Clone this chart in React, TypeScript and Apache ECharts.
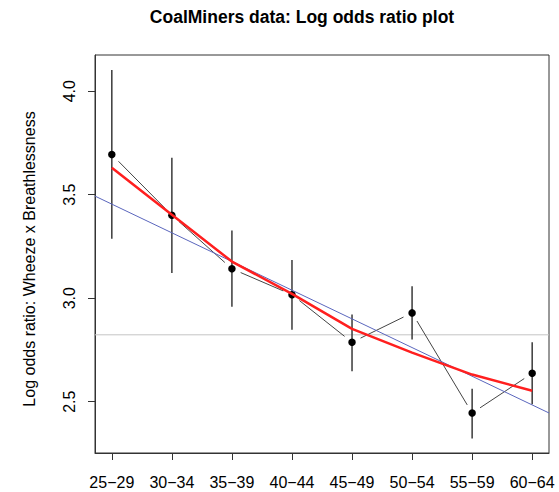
import React, { useEffect, useRef } from 'react';
import * as echarts from 'echarts';

// Age groups (x categories)
const AGE_GROUPS = ['25−29', '30−34', '35−39', '40−44', '45−49', '50−54', '55−59', '60−64'];
const AGE_INDEX = [1, 2, 3, 4, 5, 6, 7, 8];

// Observed log odds ratios and their confidence limits
const LOG_ODDS = [3.694, 3.401, 3.142, 3.017, 2.787, 2.929, 2.445, 2.637];
const CI_LOWER = [3.287, 3.122, 2.959, 2.847, 2.647, 2.8, 2.322, 2.487];
const CI_UPPER = [4.103, 3.678, 3.327, 3.185, 2.921, 3.058, 2.563, 2.787];

// Lowess smooth values at each age group
const SMOOTH = [3.63, 3.403, 3.177, 3.021, 2.852, 2.737, 2.631, 2.553];

// Linear fit (blue) and reference level (grey)
const FIT_INTERCEPT = 3.593;
const FIT_SLOPE = -0.1386;
const REF_LEVEL = 2.823;

// Y tick values
const Y_TICKS = [2.5, 3.0, 3.5, 4.0];

const X_MIN = 0.72;
const X_MAX = 8.28;
const Y_MIN = 2.252;
const Y_MAX = 4.175;

const FONT = "'Liberation Sans', Arial, Helvetica, sans-serif";

export default function App() {
  const ref = useRef<HTMLDivElement>(null);

  useEffect(() => {
    if (!ref.current) return;
    const chart = echarts.init(ref.current, null, { renderer: 'svg' });

    const points = AGE_INDEX.map((x, i) => [x, LOG_ODDS[i]]);
    const bars = AGE_INDEX.map((x, i) => [x, CI_LOWER[i], CI_UPPER[i]]);
    const segments = AGE_INDEX.slice(0, -1).map((x, i) => [x, LOG_ODDS[i], AGE_INDEX[i + 1], LOG_ODDS[i + 1]]);
    const smooth = AGE_INDEX.map((x, i) => [x, SMOOTH[i]]);
    const fit = [X_MIN, X_MAX].map((x) => [x, FIT_INTERCEPT + FIT_SLOPE * x]);
    const ref_line = [X_MIN, X_MAX].map((x) => [x, REF_LEVEL]);

    const GAP = 9.5;

    const option: any = {
      animation: false,
      backgroundColor: '#ffffff',
      grid: {
        left: 95,
        right: 10,
        top: 55,
        bottom: 39,
        show: true,
        borderColor: '#333',
        borderWidth: 1,
        backgroundColor: 'transparent',
      },
      graphic: [
        {
          type: 'text',
          x: 302,
          y: 17,
          style: {
            text: 'CoalMiners data: Log odds ratio plot',
            font: `bold 17.5px ${FONT}`,
            fill: '#000',
            textAlign: 'center',
            textVerticalAlign: 'middle',
          },
        },
        {
          type: 'text',
          x: 29.5,
          y: 259,
          rotation: Math.PI / 2,
          style: {
            text: 'Log odds ratio: Wheeze x Breathlessness',
            font: `16px ${FONT}`,
            fill: '#000',
            textAlign: 'center',
            textVerticalAlign: 'middle',
          },
        },
      ],
      xAxis: {
        type: 'value',
        min: X_MIN,
        max: X_MAX,
        splitLine: { show: false },
        axisLine: { show: true, onZero: false, lineStyle: { color: '#333', width: 1 } },
        axisTick: {
          show: true,
          customValues: AGE_INDEX,
          length: 7,
          lineStyle: { color: '#333', width: 1 },
        },
        axisLabel: {
          customValues: AGE_INDEX,
          formatter: (v: number) => AGE_GROUPS[Math.round(v) - 1],
          fontSize: 16,
          fontFamily: FONT,
          color: '#000',
          margin: 21,
        },
      },
      yAxis: {
        type: 'value',
        min: Y_MIN,
        max: Y_MAX,
        splitLine: { show: false },
        axisLine: { show: true, onZero: false, lineStyle: { color: '#333', width: 1 } },
        axisTick: {
          show: true,
          customValues: Y_TICKS,
          length: 7,
          lineStyle: { color: '#333', width: 1 },
        },
        axisLabel: {
          customValues: Y_TICKS,
          formatter: (v: number) => v.toFixed(1),
          rotate: 90,
          fontSize: 16,
          fontFamily: FONT,
          color: '#000',
          margin: 18,
        },
      },
      series: [
        {
          type: 'line',
          data: ref_line,
          symbol: 'none',
          lineStyle: { color: '#c4c4c4', width: 1 },
          z: 1,
          silent: true,
        },
        {
          type: 'custom',
          data: bars,
          encode: { x: 0, y: [1, 2] },
          z: 2,
          renderItem: (_p: any, api: any) => {
            const x = api.value(0);
            const lo = api.coord([x, api.value(1)]);
            const hi = api.coord([x, api.value(2)]);
            return {
              type: 'line',
              shape: { x1: lo[0], y1: lo[1], x2: hi[0], y2: hi[1] },
              style: { stroke: '#3a3a3a', lineWidth: 1.5 },
            };
          },
        },
        {
          type: 'custom',
          data: segments,
          encode: { x: [0, 2], y: [1, 3] },
          z: 3,
          renderItem: (_p: any, api: any) => {
            const a = api.coord([api.value(0), api.value(1)]);
            const b = api.coord([api.value(2), api.value(3)]);
            const dx = b[0] - a[0];
            const dy = b[1] - a[1];
            const len = Math.sqrt(dx * dx + dy * dy);
            const ux = dx / len;
            const uy = dy / len;
            return {
              type: 'line',
              shape: {
                x1: a[0] + ux * GAP,
                y1: a[1] + uy * GAP,
                x2: b[0] - ux * GAP,
                y2: b[1] - uy * GAP,
              },
              style: { stroke: '#444', lineWidth: 1 },
            };
          },
        },
        {
          type: 'scatter',
          data: points,
          symbol: 'circle',
          symbolSize: 7.5,
          itemStyle: { color: '#000', opacity: 1 },
          z: 4,
        },
        {
          type: 'line',
          data: fit,
          symbol: 'none',
          lineStyle: { color: '#5a66bd', width: 1 },
          z: 5,
        },
        {
          type: 'line',
          data: smooth,
          symbol: 'none',
          smooth: false,
          lineStyle: { color: '#ff1f1f', width: 2.5 },
          z: 6,
        },
      ],
    };

    chart.setOption(option);
    return () => chart.dispose();
  }, []);

  return (
    <div
      ref={ref}
      style={{ position: 'fixed', left: 0, top: 0, width: 559, height: 492, background: '#fff' }}
    />
  );
}
